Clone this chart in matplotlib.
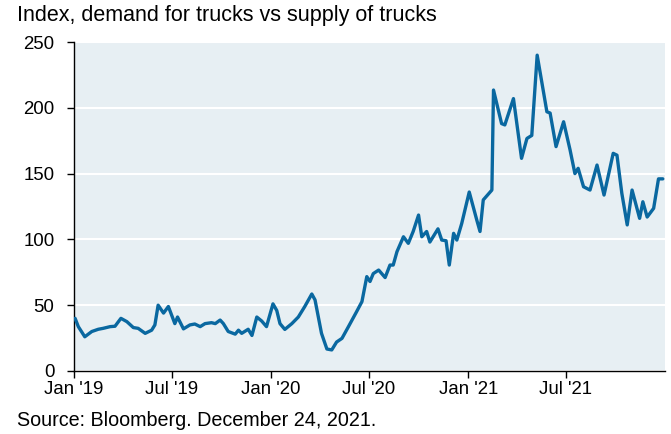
import matplotlib
matplotlib.use("Agg")
import matplotlib.pyplot as plt
import numpy as np

# ---------- DATA ----------
dates = [
    "2019-01-03", "2019-01-09", "2019-01-21", "2019-02-03", "2019-02-15", "2019-02-24",
    "2019-03-09", "2019-03-18", "2019-03-29", "2019-04-09", "2019-04-21", "2019-04-30",
    "2019-05-13", "2019-05-25", "2019-05-31", "2019-06-06", "2019-06-16", "2019-06-25",
    "2019-07-07", "2019-07-12", "2019-07-23", "2019-08-04", "2019-08-13", "2019-08-23",
    "2019-09-01", "2019-09-13", "2019-09-20", "2019-09-29", "2019-10-05", "2019-10-14",
    "2019-10-27", "2019-11-02", "2019-11-08", "2019-11-20", "2019-11-27", "2019-12-06",
    "2019-12-15", "2019-12-24", "2020-01-05", "2020-01-12", "2020-01-18", "2020-01-27",
    "2020-02-09", "2020-02-21", "2020-03-04", "2020-03-17", "2020-03-23", "2020-04-04",
    "2020-04-14", "2020-04-23", "2020-05-02", "2020-05-12", "2020-05-24", "2020-06-08",
    "2020-06-18", "2020-06-27", "2020-07-03", "2020-07-09", "2020-07-19", "2020-07-31",
    "2020-08-09", "2020-08-15", "2020-08-22", "2020-09-03", "2020-09-12", "2020-09-21",
    "2020-10-01", "2020-10-07", "2020-10-16", "2020-10-22", "2020-11-06", "2020-11-13",
    "2020-11-21", "2020-11-27", "2020-12-05", "2020-12-11", "2020-12-20", "2021-01-03",
    "2021-01-17", "2021-01-23", "2021-01-29", "2021-02-14", "2021-02-17", "2021-03-04",
    "2021-03-10", "2021-03-26", "2021-04-10", "2021-04-20", "2021-04-29", "2021-05-09",
    "2021-05-27", "2021-06-02", "2021-06-13", "2021-06-27", "2021-07-09", "2021-07-18",
    "2021-07-24", "2021-08-03", "2021-08-15", "2021-08-28", "2021-09-10", "2021-09-27",
    "2021-10-04", "2021-10-13", "2021-10-23", "2021-11-01", "2021-11-15", "2021-11-21",
    "2021-11-29", "2021-12-11", "2021-12-20", "2021-12-28",
]
index_values = [
    40, 33.7, 26, 30, 31.7, 32.4,
    33.7, 34, 40, 37.5, 33, 32.4,
    28.6, 31, 35, 50, 44, 49,
    36, 41, 32, 35, 35.7, 33.7,
    36, 36.7, 36, 38.7, 36, 30,
    28, 31, 28.6, 31.7, 27, 41,
    38, 33.7, 51, 46, 36, 31.6,
    36, 41, 49, 58.5, 54, 28.6,
    16.7, 16, 22, 24.8, 33.7, 45,
    52.7, 71.7, 68, 74, 76.7, 71,
    80.5, 80.5, 90.7, 102, 97, 106,
    118.5, 102, 106, 98, 108, 99.5,
    99, 80.5, 104.6, 99.5, 112, 136,
    114.7, 106, 130, 137.5, 213.5, 188,
    187, 207, 161.6, 176.7, 179, 240,
    197, 196, 170.5, 189.4, 168, 150,
    154, 140, 137.5, 156.5, 133.7, 165.4,
    164, 135, 111, 137.5, 116, 128.6,
    117, 123.6, 146, 146,
]
tick_dates = ["2019-01-01", "2019-07-01", "2020-01-01", "2020-07-01", "2021-01-01", "2021-07-01"]
tick_labels = ["Jan '19", "Jul '19", "Jan '20", "Jul '20", "Jan '21", "Jul '21"]
y_ticks = [0, 50, 100, 150, 200, 250]

title = "Index, demand for trucks vs supply of trucks"
source = "Source: Bloomberg. December 24, 2021."

# ---------- PLOT ----------
plt.rcParams['font.family'] = ['Liberation Sans', 'DejaVu Sans']

x = np.array(dates, dtype="datetime64[D]")
ticks = np.array(tick_dates, dtype="datetime64[D]")

fig = plt.figure(figsize=(6.71, 4.34), dpi=100)
ax = fig.add_axes([0.1103, 0.1452, 0.8807, 0.758])
ax.set_facecolor("#e7eff3")

ax.plot(x, index_values, color="#0a68a0", linewidth=2.4,
        solid_joinstyle="round", solid_capstyle="round", zorder=3)

ax.set_ylim(0, 250)
ax.set_yticks(y_ticks)
ax.set_xlim(np.datetime64("2019-01-01"), np.datetime64("2022-01-01"))
ax.set_xticks(ticks)
ax.set_xticklabels(tick_labels)

ax.grid(axis="y", color="white", linewidth=1.5, zorder=1)
ax.set_axisbelow(True)
for side in ["top", "right"]:
    ax.spines[side].set_visible(False)
for side in ["left", "bottom"]:
    ax.spines[side].set_color("black")
    ax.spines[side].set_linewidth(1.0)

ax.tick_params(axis="both", direction="out", length=5, width=1.0,
               labelsize=13.4, colors="black")
ax.tick_params(axis="x", pad=2)
ax.tick_params(axis="y", pad=9)

fig.text(0.026, 0.964, title, fontsize=15.5, va="center", ha="left")
fig.text(0.026, 0.032, source, fontsize=14.2, va="center", ha="left")

fig.savefig("out.png", dpi=100)
